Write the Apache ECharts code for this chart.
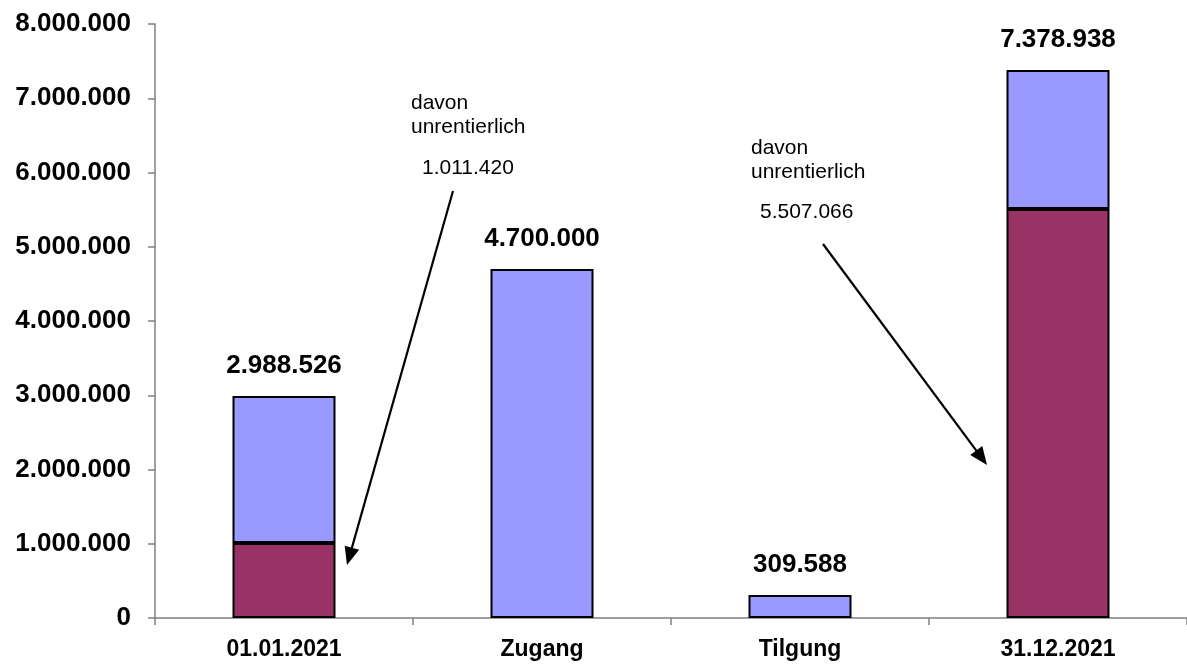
<!DOCTYPE html>
<html>
<head>
<meta charset="utf-8">
<script src="https://cdn.jsdelivr.net/npm/echarts@6/dist/echarts.min.js"></script>
<style>
html,body{margin:0;padding:0;background:#fff;}
#chart{width:1187px;height:668px;}
</style>
</head>
<body>
<div id="chart"></div>
<script>
const categories = ['01.01.2021', 'Zugang', 'Tilgung', '31.12.2021'];
const unrentierlich = [1011420, null, null, 5507066];
const rentierlich = [1977106, 4700000, 309588, 1871872];
const totals = [2988526, 4700000, 309588, 7378938];
const yTicks = [0, 1000000, 2000000, 3000000, 4000000, 5000000, 6000000, 7000000, 8000000];
const notes = [
  { lines: ['davon', 'unrentierlich'], value: '1.011.420' },
  { lines: ['davon', 'unrentierlich'], value: '5.507.066' }
];

function fmt(v) {
  return String(Math.round(v)).replace(/\B(?=(\d{3})+(?!\d))/g, '.');
}

function arrow(x1, y1, x2, y2) {
  const len = 18, half = 7.5;
  const dx = x2 - x1, dy = y2 - y1;
  const d = Math.sqrt(dx * dx + dy * dy);
  const ux = dx / d, uy = dy / d;
  const bx = x2 - ux * len, by = y2 - uy * len;
  const px = -uy, py = ux;
  return [
    { type: 'line', shape: { x1: x1, y1: y1, x2: bx + ux * 2, y2: by + uy * 2 }, style: { stroke: '#000', lineWidth: 2.2 } },
    { type: 'polygon', shape: { points: [[x2, y2], [bx + px * half, by + py * half], [bx - px * half, by - py * half]] }, style: { fill: '#000' } }
  ];
}

function noteText(x, y, lines, value, vx, vy) {
  const st = { fontFamily: 'Liberation Sans, Arial, sans-serif', fontSize: 21, fill: '#000', verticalAlign: 'middle', align: 'left' };
  return [
    { type: 'text', x: x, y: y, style: Object.assign({ text: lines[0] }, st) },
    { type: 'text', x: x, y: y + 24, style: Object.assign({ text: lines[1] }, st) },
    { type: 'text', x: vx, y: vy, style: Object.assign({ text: value }, st) }
  ];
}

const chart = echarts.init(document.getElementById('chart'));
const font = 'Liberation Sans, Arial, Helvetica, sans-serif';

const option = {
  animation: false,
  backgroundColor: '#fff',
  grid: { left: 155, right: 0, top: 24, bottom: 50, containLabel: false },
  xAxis: {
    type: 'category',
    data: categories,
    axisLine: { lineStyle: { color: '#808080', width: 1.5 } },
    axisTick: { show: true, length: 7, lineStyle: { color: '#808080', width: 1.5 } },
    axisLabel: { color: '#000', fontWeight: 'bold', fontSize: 23, fontFamily: font, margin: 20 }
  },
  yAxis: {
    type: 'value',
    min: 0,
    max: 8000000,
    interval: 1000000,
    splitLine: { show: false },
    axisLine: { show: true, lineStyle: { color: '#808080', width: 1.5 } },
    axisTick: { show: true, length: 7, lineStyle: { color: '#808080', width: 1.5 } },
    axisLabel: {
      color: '#000', fontWeight: 'bold', fontSize: 26, fontFamily: font, margin: 24,
      formatter: function (v) { return yTicks.indexOf(v) >= 0 ? fmt(v) : ''; }
    }
  },
  series: [
    {
      name: 'unrentierlich',
      type: 'bar',
      stack: 'total',
      data: unrentierlich,
      barWidth: 103,
      itemStyle: { color: '#993366', borderColor: '#000', borderWidth: 2 }
    },
    {
      name: 'rentierlich',
      type: 'bar',
      stack: 'total',
      data: rentierlich,
      barWidth: 103,
      itemStyle: { color: '#9999FF', borderColor: '#000', borderWidth: 2 },
      label: {
        show: true,
        position: 'top',
        distance: 17,
        color: '#000',
        fontWeight: 'bold',
        fontSize: 26,
        fontFamily: font,
        formatter: function (p) { return fmt(totals[p.dataIndex]); }
      }
    }
  ],
  graphic: [].concat(
    noteText(411, 103, notes[0].lines, notes[0].value, 422, 168),
    arrow(453, 191, 347, 565),
    noteText(751, 148, notes[1].lines, notes[1].value, 760, 212),
    arrow(823, 244, 987, 465)
  )
};
chart.setOption(option);
</script>
</body>
</html>
